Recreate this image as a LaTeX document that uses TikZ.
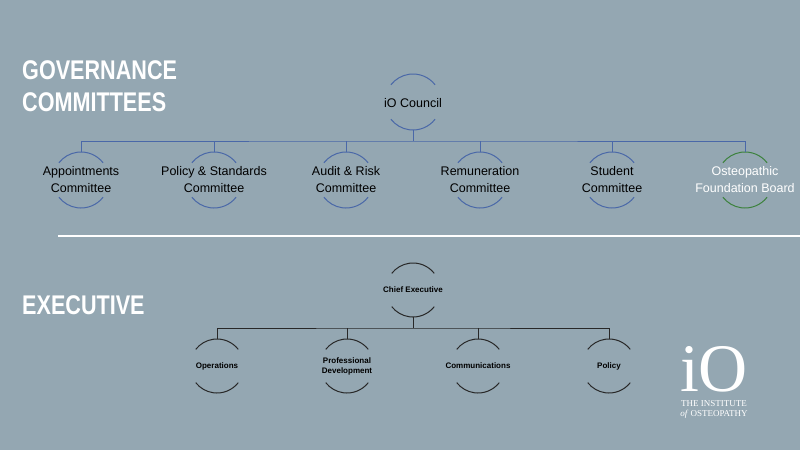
\documentclass[tikz,border=0pt]{standalone}
\usepackage{fontspec}
\setmainfont{Liberation Sans}
\newfontfamily\serifo{Liberation Serif}
\begin{document}
\begin{tikzpicture}[x=1pt,y=-1pt,
  govline/.style={draw={rgb,255:red,74;green,104;blue,168}, line width=1pt},
  exline/.style={draw={rgb,255:red,40;green,40;blue,40}, line width=1pt},
  gtext/.style={font=\fontsize{12.5}{17}\selectfont, align=center, text=black},
  etext/.style={font=\bfseries\fontsize{8}{10}\selectfont, align=center, text=black},
  title/.style={font=\bfseries\fontsize{27}{32}\selectfont, text=white, anchor=west, align=left}]
\fill[fill={rgb,255:red,148;green,167;blue,178}] (0,0) rectangle (800,450);
\useasboundingbox (0,0) rectangle (800,450);
\newcommand\halfring[4]{% x y r style
  \draw[#4] ([shift={(-38:#3)}]#1,#2) arc[start angle=-38,end angle=-142,radius=#3];
  \draw[#4] ([shift={(38:#3)}]#1,#2) arc[start angle=38,end angle=142,radius=#3];
}
% titles
\node[title, inner sep=0] (t1) at (22,86) {\scalebox{0.8}[1]{GOVERNANCE}\\\scalebox{0.8}[1]{COMMITTEES}};
\node[title, inner sep=0] (t2) at (22,305) {\scalebox{0.8}[1]{EXECUTIVE}};
% governance
\node[gtext] (c) at (413,103) {iO Council};
\halfring{413}{102}{28}{govline}
\coordinate (cb) at (413,130);
\foreach \x/\n/\t in {81/a/{Appointments\\Committee},214/b/{Policy \& Standards\\Committee},346/d/{Audit \& Risk\\Committee},480/e/{Remuneration\\Committee},612/f/{Student\\Committee}}{
  \node[gtext] (\n) at (\x,180) {\t};
  \coordinate (\n t) at (\x,152);
  \halfring{\x}{180}{28}{govline}
}
\node[gtext, text=white] (g) at (745,180) {Osteopathic\\Foundation Board};
\coordinate (gt) at (745,152);
\halfring{745}{180}{28}{draw={rgb,255:red,60;green,130;blue,60}, line width=1pt}
\draw[govline] (cb) -- (413,141);
\draw[govline] (at) |- (413,141) -| (gt);
\foreach \n in {b,d,e,f}{\draw[govline] (\n t) -- (\n t |- 0,141);}
% divider
\draw[white, line width=2pt] (58,236) -- (800,236);
% executive
\node[etext] (ce) at (413,290) {Chief Executive};
\halfring{413}{290}{27}{exline}
\coordinate (ceb) at (413,317);
\foreach \x/\n/\t in {217/o/{Operations},347/p/{Professional\\Development},478/m/{Communications},609/q/{Policy}}{
  \node[etext] (\n) at (\x,366) {\t};
  \coordinate (\n t) at (\x,339);
  \halfring{\x}{366}{27}{exline}
}
\draw[exline] (ceb) -- (413,328);
\draw[exline] (ot) |- (413,328) -| (qt);
\foreach \n in {p,m}{\draw[exline] (\n t) -- (\n t |- 0,328);}
% logo
\node[text=white, font=\serifo\fontsize{68}{68}\selectfont, inner sep=0, anchor=base] (logo) at (714,391) {iO};
\node[text=white, font=\serifo\fontsize{9}{10}\selectfont, align=center, inner sep=0, anchor=north] (logot) at (714,400) {THE INSTITUTE\\\textit{of} OSTEOPATHY};
\end{tikzpicture}
\end{document}
